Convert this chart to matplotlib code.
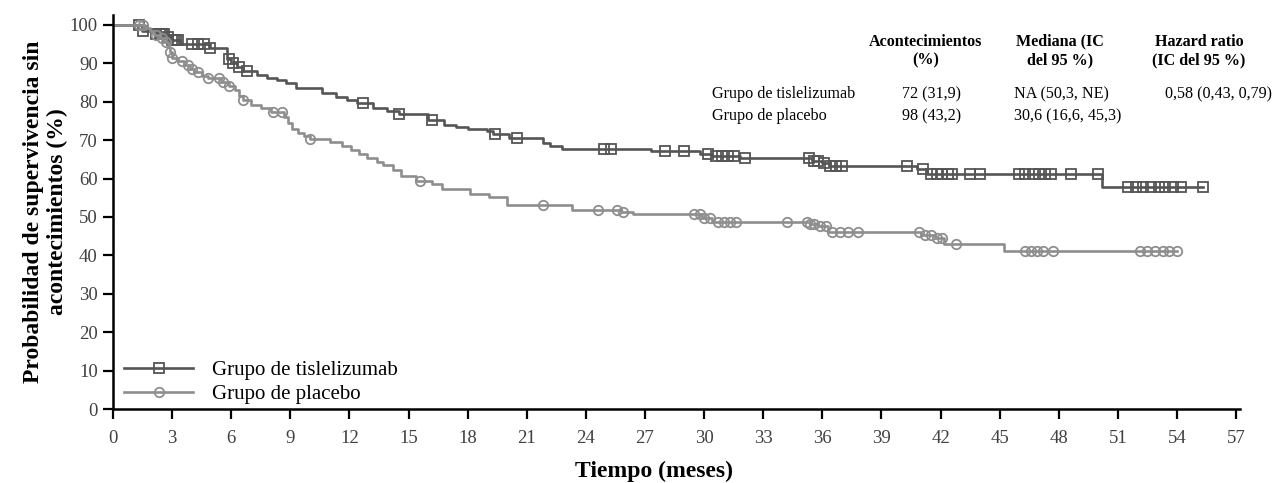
import numpy as np
import matplotlib.pyplot as plt
from matplotlib.lines import Line2D

plt.rcParams['font.family'] = ['Liberation Serif', 'DejaVu Serif']

# Kaplan-Meier steps (month, % event-free after the step)
tisl_t = [0, 1.45, 2.2, 2.7, 3.0, 3.4, 4.9, 5.8, 6.0, 6.3, 6.6, 7.3, 7.8, 8.3, 8.8,
          9.3, 10.6, 11.3, 11.9, 12.4, 13.2, 13.9, 14.5, 16.0, 16.8, 17.4, 18.0,
          19.0, 19.3, 20.1, 21.8, 22.2, 22.8, 27.3, 29.8, 30.4, 31.8, 35.5, 36.0,
          36.4, 40.8, 41.3, 50.2]
tisl_s = [100, 98.5, 97.7, 96.8, 96.0, 95.0, 94.0, 91.2, 90.0, 89.0, 88.0, 87.0,
          86.3, 85.8, 85.0, 83.5, 82.3, 81.3, 80.5, 79.6, 78.5, 77.5, 76.7, 75.3,
          74.0, 73.5, 72.8, 72.3, 71.5, 70.5, 69.2, 68.4, 67.6, 67.2, 66.5, 65.8,
          65.3, 64.6, 64.0, 63.2, 62.4, 61.1, 57.8]
tisl_end = 55.3
tisl_cens = [1.3, 1.5, 2.2, 2.4, 2.5, 2.6, 2.8, 3.0, 3.1, 3.2, 3.3, 4.0, 4.3, 4.6,
             4.9, 5.9, 6.1, 6.4, 6.8, 12.7, 14.5, 16.2, 19.4, 20.5, 24.9, 25.3,
             28.0, 29.0, 30.2, 30.6, 30.9, 31.2, 31.5, 32.1, 35.3, 35.6, 35.8,
             36.1, 36.4, 36.7, 37.0, 40.3, 41.1, 41.5, 41.8, 42.1, 42.4, 42.6,
             43.5, 44.0, 46.0, 46.3, 46.7, 47.0, 47.3, 47.6, 48.6, 50.0, 51.5,
             51.9, 52.3, 52.7, 53.1, 53.4, 53.8, 54.2, 55.3]

plac_t = [0, 1.6, 1.9, 2.1, 2.4, 2.6, 2.8, 2.9, 3.0, 3.3, 3.6, 3.9, 4.1, 4.5, 4.8,
          5.5, 5.9, 6.2, 6.4, 6.6, 7.0, 7.5, 8.0, 8.7, 8.9, 9.1, 9.4, 9.7, 10.0,
          11.0, 11.6, 12.1, 12.5, 12.9, 13.4, 13.7, 14.2, 14.6, 15.4, 16.2, 16.7,
          18.1, 19.1, 20.0, 23.3, 25.8, 26.4, 29.9, 30.4, 35.4, 35.8, 36.3, 41.0,
          41.7, 42.2, 45.2]
plac_s = [100, 99.2, 98.5, 97.5, 96.5, 95.5, 94.3, 93.0, 91.5, 90.5, 89.6, 88.6,
          87.8, 86.8, 86.2, 85.2, 84.2, 83.0, 81.5, 80.5, 79.2, 78.3, 77.3, 76.0,
          74.5, 73.0, 72.0, 71.0, 70.3, 69.6, 68.5, 67.5, 66.3, 65.3, 64.3, 63.5,
          62.3, 60.6, 59.5, 58.5, 57.3, 56.0, 55.2, 53.1, 51.8, 51.3, 50.8, 49.8,
          48.7, 48.2, 47.6, 46.1, 45.3, 44.5, 43.0, 41.2]
plac_end = 54.0
plac_cens = [1.3, 1.5, 2.2, 2.5, 2.7, 2.9, 3.0, 3.5, 3.8, 4.0, 4.3, 4.8, 5.4, 5.6,
             5.9, 6.6, 8.1, 8.6, 10.0, 15.6, 21.8, 24.6, 25.6, 25.9, 29.5, 29.8,
             30.0, 30.3, 30.7, 31.0, 31.3, 31.6, 34.2, 35.2, 35.4, 35.6, 35.9,
             36.2, 36.5, 36.9, 37.3, 37.8, 40.9, 41.2, 41.5, 41.8, 42.1, 42.8,
             46.3, 46.6, 46.9, 47.2, 47.7, 52.1, 52.5, 52.9, 53.3, 53.6, 54.0]

groups = ["Grupo de tislelizumab", "Grupo de placebo"]
events = ["72 (31,9)", "98 (43,2)"]
medians = ["NA (50,3, NE)", "30,6 (16,6, 45,3)"]
hazard = ["0,58 (0,43, 0,79)", ""]
headers = ["Acontecimientos\n(%)", "Mediana (IC\ndel 95 %)", "Hazard ratio\n(IC del 95 %)"]
xticks = list(range(0, 58, 3))
yticks = list(range(0, 101, 10))

W, H = 1274, 483
fig = plt.figure(figsize=(W / 100, H / 100), dpi=100)
ax = fig.add_axes([113 / W, 1 - 409 / H, 1127 / W, 394 / H])

c_tisl = '#555555'
c_plac = '#8e8e8e'


def km(ax, t, s, end, cens, color, marker):
    ax.step(list(t) + [end], list(s) + [s[-1]], where='post', color=color, lw=1.9)
    idx = np.searchsorted(t, cens, side='right') - 1
    ax.plot(cens, np.array(s)[idx], ls='none', marker=marker, ms=6.8,
            mfc='none', mec=color, mew=1.3)


km(ax, tisl_t, tisl_s, tisl_end, tisl_cens, c_tisl, 's')
km(ax, plac_t, plac_s, plac_end, plac_cens, c_plac, 'o')

ax.set_xlim(0, 57.2)
ax.set_ylim(0, 102.6)
ax.set_xticks(xticks)
ax.set_yticks(yticks)
for side in ['top', 'right']:
    ax.spines[side].set_visible(False)
for side in ['left', 'bottom']:
    ax.spines[side].set_linewidth(1.8)
ax.tick_params(direction='out', length=7, width=1.6, labelsize=13.5,
               labelcolor='#404040')
ax.tick_params(axis='x', pad=8)
ax.tick_params(axis='y', pad=4)

ax.set_ylabel("Probabilidad de supervivencia sin\nacontecimientos (%)",
              fontsize=17, fontweight='bold', linespacing=1.2)
ax.yaxis.set_label_coords(-(113 - 68) / 1127, 0.5)
fig.text(654 / W, 1 - 471 / H, "Tiempo (meses)", ha='center', va='center',
         fontsize=17, fontweight='bold')

handles = [Line2D([], [], color=c_tisl, lw=1.9, marker='s', ms=6.8, mfc='none', mew=1.3),
           Line2D([], [], color=c_plac, lw=1.9, marker='o', ms=6.8, mfc='none', mew=1.3)]
ax.legend(handles, groups, loc='lower left', bbox_to_anchor=(0.01, 0.012),
          frameon=False, fontsize=15, handlelength=3.3, handletextpad=0.9,
          labelspacing=0.22, numpoints=1, borderpad=0, borderaxespad=0)

# table of results in the upper right
for x, txt in zip([926, 1060, 1199], headers):
    fig.text(x / W, 1 - 51 / H, txt, ha='center', va='center', fontsize=11.6,
             fontweight='bold', linespacing=1.25)
for i, y in enumerate([94, 116]):
    yy = 1 - y / H
    fig.text(712 / W, yy, groups[i], ha='left', va='center', fontsize=11.6)
    fig.text(932 / W, yy, events[i], ha='center', va='center', fontsize=11.6)
    fig.text(1014 / W, yy, medians[i], ha='left', va='center', fontsize=11.6)
    fig.text(1165 / W, yy, hazard[i], ha='left', va='center', fontsize=11.6)

fig.savefig('out.png', dpi=100)
